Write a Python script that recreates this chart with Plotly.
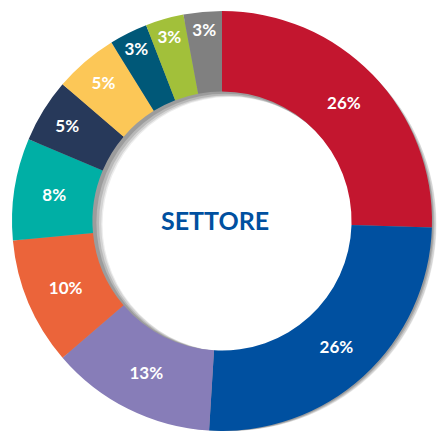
import plotly.graph_objects as go

categories = ["Cat A", "Cat B", "Cat C", "Cat D", "Cat E", "Cat F", "Cat G", "Cat H", "Cat I", "Cat J"]
values = [26, 26, 13, 10, 8, 5, 5, 3, 3, 3]
labels_text = [f"{v}%" for v in values]
colors = ["#C3162F", "#0050A0", "#877DB8", "#EB643A", "#00AFA5",
          "#27395A", "#FCC757", "#005878", "#A2C03A", "#808080"]
center_title = "SETTORE"

W, H = 439, 431
cx, cy, r = 222, 221, 210  # px, from top-left
hole = 0.617

def dom(dx, dy, rr=r):
    x0 = (cx + dx - rr) / W
    x1 = (cx + dx + rr) / W
    y0 = (H - (cy + dy) - rr) / H
    y1 = (H - (cy + dy) + rr) / H
    return dict(x=[max(0, x0), min(1, x1)], y=[max(0, y0), min(1, y1)])

fig = go.Figure()

# soft shadow layers
for (dx, dy, a) in [(9, 7, 0.07), (7, 6, 0.10), (5, 5, 0.13), (3, 3, 0.15)]:
    d = dom(dx, dy)
    fig.add_trace(go.Pie(values=[1], labels=["shadow"], hole=hole,
                         marker=dict(colors=[f"rgba(0,0,0,{a})"], line=dict(width=0)),
                         textinfo="none", hoverinfo="skip", showlegend=False,
                         domain=d, sort=False))

fig.add_trace(go.Pie(
    labels=categories, values=values, text=labels_text,
    textinfo="text", texttemplate="%{text}",
    textposition="inside", insidetextorientation="horizontal",
    textfont=dict(family="Lato", size=17, color="white", weight="bold"),
    hole=hole, sort=False, direction="clockwise", rotation=0,
    marker=dict(colors=colors, line=dict(width=0)),
    showlegend=False, domain=dom(0, 0),
))

fig.add_annotation(text=center_title, x=(cx - 7) / W, y=(H - cy + 1) / H,
                   xref="paper", yref="paper", showarrow=False,
                   font=dict(family="Lato", size=25, color="#0050A0", weight="bold"))

fig.update_layout(width=W, height=H, margin=dict(l=0, r=0, t=0, b=0),
                  paper_bgcolor="white", plot_bgcolor="white")

fig.write_html("out.html")
